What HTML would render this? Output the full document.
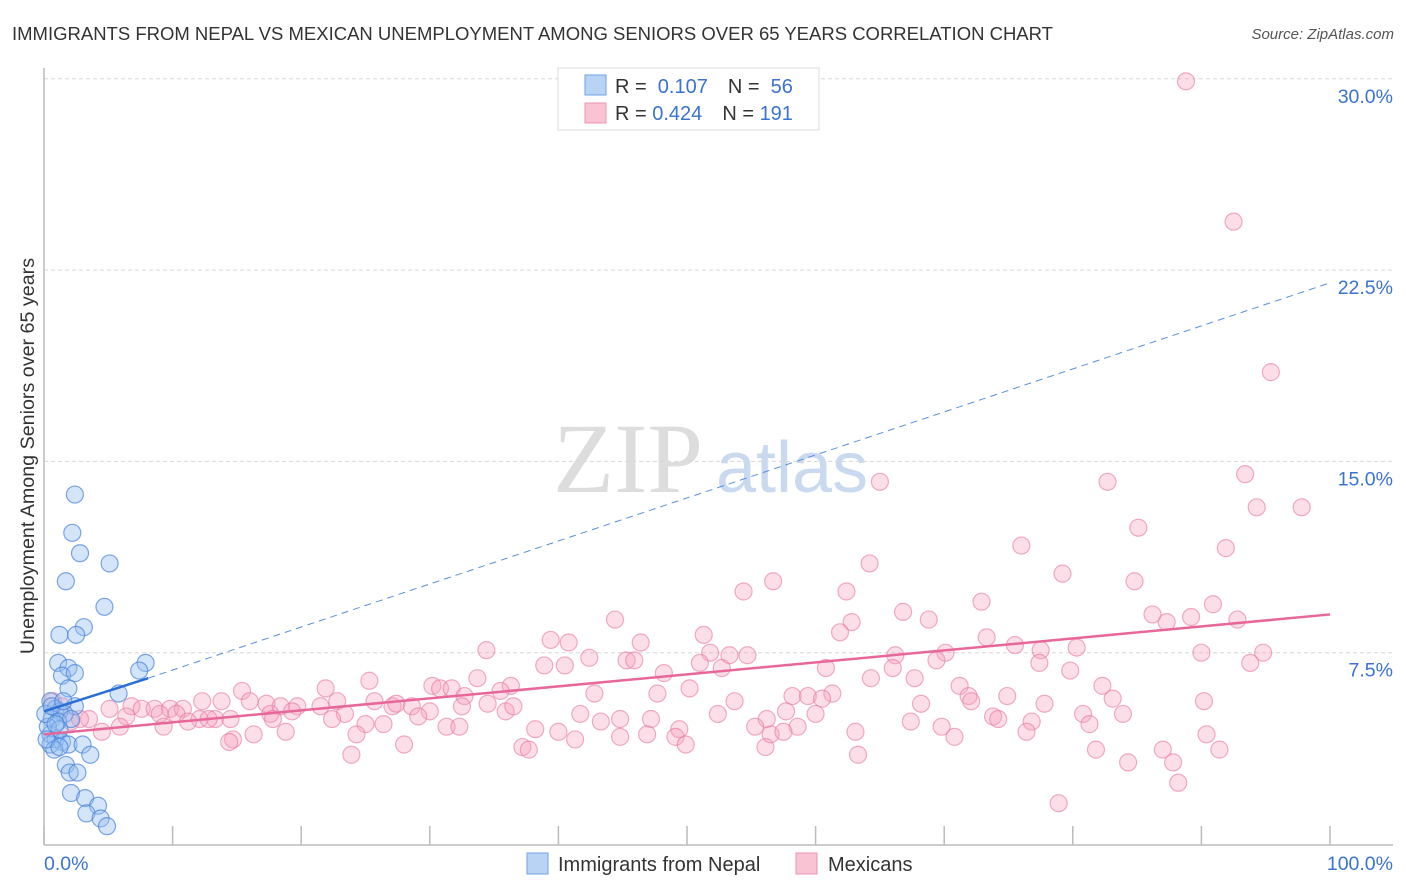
<!DOCTYPE html>
<html><head><meta charset="utf-8"><style>
body{margin:0;background:#fff;width:1406px;height:892px;overflow:hidden;font-family:"Liberation Sans",sans-serif;}
svg{display:block}
</style></head><body>
<svg width="1406" height="892" id="chart">
<text x="12" y="40" font-size="18.5" fill="#333">IMMIGRANTS FROM NEPAL VS MEXICAN UNEMPLOYMENT AMONG SENIORS OVER 65 YEARS CORRELATION CHART</text>
<text x="1394" y="39" font-size="15" fill="#555" font-style="italic" text-anchor="end">Source: ZipAtlas.com</text>
<g>
<text x="553" y="492" font-size="100" font-family="Liberation Serif,serif" fill="#ddd">ZIP</text>
<text x="716" y="492" font-size="72" fill="#c9daf0">atlas</text>
</g>
<g id="grid"></g>
<g id="axes"></g>
<g id="pts"></g>
<g id="trend"></g>
<g>
<rect x="558" y="68" width="261" height="62" fill="#fff" stroke="#ddd"/>
<rect x="585" y="75" width="21" height="20" fill="#b9d3f5" stroke="#6fa0e6"/>
<rect x="585" y="103" width="21" height="20" fill="#f9c3d3" stroke="#ec96b2"/>
<text x="615" y="93" font-size="20" fill="#333">R = <tspan fill="#3a73d0">&#160;0.107</tspan><tspan dx="20">N = </tspan><tspan fill="#3a73d0">&#160;56</tspan></text>
<text x="615" y="120" font-size="20" fill="#333">R = <tspan fill="#3a73d0">0.424</tspan><tspan dx="20">N = </tspan><tspan fill="#3a73d0">191</tspan></text>
</g>
<g>
<rect x="527" y="853" width="21" height="21" fill="#b9d3f5" stroke="#6fa0e6"/>
<text x="558" y="871" font-size="20" fill="#333">Immigrants from Nepal</text>
<rect x="796" y="853" width="21" height="21" fill="#f9c3d3" stroke="#ec96b2"/>
<text x="828" y="871" font-size="20" fill="#333">Mexicans</text>
</g>
<text transform="translate(34,456) rotate(-90)" font-size="19.7" fill="#333" text-anchor="middle">Unemployment Among Seniors over 65 years</text>
</svg>
<script>
const yTicks=[7.5,15,22.5,30];
const yTickLabels=["7.5%","15.0%","22.5%","30.0%"];
const xTicks=[0,10,20,30,40,50,60,70,80,90,100];
const nepalX=[2.4,2.2,2.8,1.7,5.1,4.7,3.1,1.2,2.5,7.9,7.4,1.1,1.9,1.4,2.4,1.9,5.8,2.4,0.5,0.9,1.2,1.6,0.6,1.1,2.1,0.5,0.9,1.4,0.5,1.9,3.0,3.6,0.8,1.7,2.0,2.6,2.1,3.2,4.2,3.3,4.4,4.9,0.3,0.1,1.2,0.6,1.5,0.9,0.2,1.2];
const nepalY=[13.7,12.2,11.4,10.3,11.0,9.3,8.5,8.2,8.2,7.1,6.8,7.1,6.9,6.6,6.7,6.1,5.9,5.4,5.6,5.3,5.2,5.1,4.9,4.8,4.9,4.3,4.1,4.0,3.9,3.9,3.9,3.5,3.7,3.1,2.8,2.8,2.0,1.8,1.5,1.2,1.0,0.7,4.6,5.1,4.5,5.4,5.6,4.7,4.1,3.8];
const mexX=[88.8,92.5,95.4,65.0,82.7,93.4,94.3,97.8,85.1,76.0,91.9,64.2,79.2,84.8,56.7,54.4,62.4,72.9,66.8,90.9,86.2,44.4,62.8,68.8,87.3,89.2,92.8,61.9,51.3,39.4,40.8,46.4,73.3,75.5,34.4,80.3,42.4,51.8,53.3,54.7,66.2,70.1,77.5,90.0,94.8,45.3,45.9,38.9,40.5,51.0,52.7,60.8,66.0,69.4,77.4,93.8,25.3,33.7,48.2,64.3,67.7,79.8,30.2,30.8,31.7,36.3,21.9,15.4,35.5,50.2,71.2,82.3,42.8,47.7,58.2,59.4,61.3,71.9,74.9,83.1,90.2,16.0,17.3,18.4,19.7,12.3,13.8,22.8,25.7,27.1,27.4,28.6,32.7,34.5,53.7,60.5,68.2,72.1,77.8,0.7,1.4,6.8,7.6,8.6,9.8,10.8,5.1,21.5,30.0,32.5,35.9,36.5,41.7,57.7,60.0,80.8,83.9,9.0,10.3,6.4,17.6,19.3,23.4,29.1,52.4,73.8,74.2,3.5,12.1,13.3,11.2,12.8,14.5,17.8,22.4,26.4,25.0,43.3,44.8,47.2,56.2,67.4,76.8,81.3,2.1,2.8,5.9,9.3,31.3,32.3,38.2,49.4,55.3,58.6,69.8,4.5,18.8,24.3,40.0,46.9,56.5,57.5,63.1,76.4,90.4,14.7,16.3,41.3,44.8,49.1,70.8,14.4,28.0,37.2,37.7,56.1,49.9,81.8,87.0,91.4,23.9,63.3,84.3,87.8,88.2,78.9];
const mexY=[29.9,24.4,18.5,14.2,14.2,14.5,13.2,13.2,12.4,11.7,11.6,11.0,10.6,10.3,10.3,9.9,9.9,9.5,9.1,9.4,9.0,8.8,8.7,8.8,8.7,8.9,8.8,8.3,8.2,8.0,7.9,7.9,8.1,7.8,7.6,7.7,7.3,7.5,7.4,7.4,7.4,7.5,7.6,7.5,7.5,7.2,7.2,7.0,7.0,7.1,6.9,6.9,6.9,7.2,7.1,7.1,6.4,6.5,6.7,6.5,6.5,6.8,6.2,6.1,6.1,6.2,6.1,6.0,6.0,6.1,6.2,6.2,5.9,5.9,5.8,5.8,5.9,5.8,5.8,5.7,5.6,5.6,5.5,5.4,5.4,5.6,5.6,5.6,5.6,5.4,5.5,5.4,5.8,5.5,5.6,5.7,5.5,5.6,5.5,5.6,5.4,5.4,5.3,5.3,5.3,5.3,5.3,5.4,5.2,5.4,5.2,5.4,5.1,5.2,5.1,5.1,5.1,5.1,5.1,5.0,5.1,5.2,5.1,5.0,5.1,5.0,4.9,4.9,4.9,4.9,4.8,4.9,4.9,4.9,4.9,4.7,4.7,4.8,4.9,4.9,4.9,4.8,4.8,4.7,4.8,4.9,4.6,4.6,4.6,4.6,4.5,4.5,4.6,4.6,4.6,4.4,4.4,4.3,4.4,4.3,4.3,4.4,4.4,4.4,4.3,4.1,4.3,4.1,4.2,4.2,4.2,4.0,3.9,3.8,3.7,3.8,3.9,3.7,3.7,3.7,3.5,3.5,3.2,3.2,2.4,1.6];
const nepalTrend=[[0,5.2],[8.1,6.5]];
const nepalTrendExt=[[8.1,6.5],[100,22.0]];
const mexTrend=[[0,4.3],[100,9.0]];

const NS="http://www.w3.org/2000/svg";
const X0=44,X1=1330,Y0=844,YPX=191.3/7.5;
function sx(v){return X0+(X1-X0)*v/100;}
function sy(v){return Y0-v*YPX;}
function mk(tag,attrs,parent){const e=document.createElementNS(NS,tag);for(const k in attrs)e.setAttribute(k,attrs[k]);parent.appendChild(e);return e;}
const grid=document.getElementById('grid'),axes=document.getElementById('axes'),pts=document.getElementById('pts'),trend=document.getElementById('trend');
yTicks.forEach((t,i)=>{
  const l=mk('line',{x1:X0,x2:1393,y1:sy(t),y2:sy(t),stroke:'#d8d8d8','stroke-dasharray':'4,3'},grid);
  
  
  const tx=mk('text',{x:1393,y:sy(t)+24,'font-size':19.5,fill:'#3a73d0','text-anchor':'end'},axes);
  tx.textContent=yTickLabels[i];
  
  
});
const ya=mk('line',{x1:X0,x2:X0,y1:68,y2:845,stroke:'#bbb','stroke-width':1.5},axes);


const xa=mk('line',{x1:X0,x2:1393,y1:845,y2:845,stroke:'#bbb','stroke-width':1.5},axes);


xTicks.forEach(t=>{
  const l=mk('line',{x1:sx(t),x2:sx(t),y1:826,y2:845,stroke:'#bbb','stroke-width':1.5},axes);
  
  
});
const xl0=mk('text',{x:44,y:870,'font-size':19.5,fill:'#3a73d0'},axes);xl0.textContent='0.0%';


const xl1=mk('text',{x:1393,y:870,'font-size':19.5,fill:'#3a73d0','text-anchor':'end'},axes);xl1.textContent='100.0%';



mexX.forEach((x,i)=>{
  const c=mk('circle',{cx:sx(x),cy:sy(mexY[i]),r:8.5,fill:'rgba(245,160,188,0.35)',stroke:'rgba(232,120,160,0.6)','stroke-width':1.2},pts);
  
  
});
nepalX.forEach((x,i)=>{
  const c=mk('circle',{cx:sx(x),cy:sy(nepalY[i]),r:8.5,fill:'rgba(150,190,240,0.4)',stroke:'rgba(70,130,220,0.7)','stroke-width':1.2},pts);
  
  
});
const te=mk('line',{x1:sx(nepalTrendExt[0][0]),y1:sy(nepalTrendExt[0][1]),x2:sx(nepalTrendExt[1][0]),y2:sy(nepalTrendExt[1][1]),stroke:'#5b8fdc','stroke-width':1,'stroke-dasharray':'7,5'},trend);


const tn=mk('line',{x1:sx(nepalTrend[0][0]),y1:sy(nepalTrend[0][1]),x2:sx(nepalTrend[1][0]),y2:sy(nepalTrend[1][1]),stroke:'#2a6fd6','stroke-width':2.5},trend);


const tm=mk('line',{x1:sx(mexTrend[0][0]),y1:sy(mexTrend[0][1]),x2:sx(mexTrend[1][0]),y2:sy(mexTrend[1][1]),stroke:'#e8679a','stroke-width':2.5},trend);


</script>
</body></html>
